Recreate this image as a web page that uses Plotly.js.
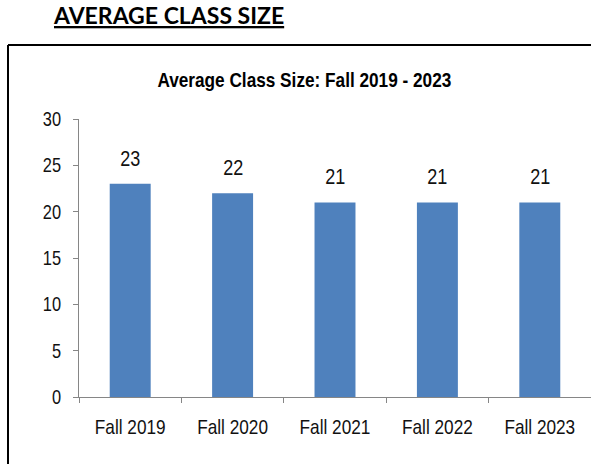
<!DOCTYPE html>
<html>
<head>
<meta charset="utf-8">
<script src="https://cdn.plot.ly/plotly-3.0.1.min.js"></script>
<style>html,body{margin:0;padding:0;background:#fff;}#chart{width:591px;height:464px;}</style>
</head>
<body>
<div id="chart"></div>
<script>
const categories = ["Fall 2019", "Fall 2020", "Fall 2021", "Fall 2022", "Fall 2023"];
const avgClassSize = [23, 22, 21, 21, 21];
const yTickValues = [0, 5, 10, 15, 20, 25, 30];
const chartTitle = "Average Class Size: Fall 2019 - 2023";
const heading = "AVERAGE CLASS SIZE";

const arial = "'Liberation Sans', Arial, sans-serif";
const NARROW = 0.82; // horizontal condensing to mimic Arial Narrow

const trace = {
  type: "bar",
  x: categories,
  y: avgClassSize,
  marker: {color: "#4F81BD", line: {width: 0}},
  width: 0.4,
  hoverinfo: "skip"
};

const labelAnns = categories.map((c, i) => ({
  x: c, y: avgClassSize[i], xref: "x", yref: "y",
  text: String(avgClassSize[i]), showarrow: false,
  yanchor: "bottom", yshift: 11,
  font: {family: arial, size: 22, color: "#111"}
}));

const layout = {
  width: 591, height: 464,
  margin: {l: 79, r: 0, t: 119, b: 67},
  paper_bgcolor: "#fff", plot_bgcolor: "#fff",
  showlegend: false,
  title: {
    text: "<b>" + chartTitle + "</b>",
    font: {family: arial, size: 21, color: "#000"},
    xref: "container", yref: "container",
    x: 0.515, xanchor: "center", y: 1 - 80/464, yanchor: "middle"
  },
  xaxis: {
    type: "category",
    showline: true, linecolor: "#868686", linewidth: 1,
    ticks: "outside", tickson: "boundaries", ticklen: 5, tickcolor: "#868686",
    tickfont: {family: arial, size: 21, color: "#111"},
    showgrid: false, zeroline: false,
    ticklabelstandoff: 11
  },
  yaxis: {
    range: [0, 30], tickvals: yTickValues,
    showline: true, linecolor: "#868686", linewidth: 1,
    ticks: "outside", ticklen: 5, tickcolor: "#868686",
    tickfont: {family: arial, size: 20, color: "#111"},
    showgrid: false, zeroline: false,
    ticklabelstandoff: 8
  },
  annotations: labelAnns.concat([{
    xref: "paper", yref: "paper",
    x: (168 - 79) / 512, y: (397 - 15) / 278,
    xanchor: "center", yanchor: "middle",
    text: "<b><u>" + heading + "</u></b>", showarrow: false,
    name: "heading",
    font: {family: "Lato, 'Open Sans', sans-serif", size: 23, color: "#000"}
  }]),
  shapes: [
    {type: "line", xref: "paper", yref: "paper",
     x0: (8 - 79) / 512, x1: 1.02, y0: (397 - 45) / 278, y1: (397 - 45) / 278,
     line: {color: "#000", width: 2}},
    {type: "line", xref: "paper", yref: "paper",
     x0: (8 - 79) / 512, x1: (8 - 79) / 512, y0: (397 - 45) / 278, y1: (397 - 470) / 278,
     line: {color: "#000", width: 2}}
  ]
};

Plotly.newPlot("chart", [trace], layout, {displayModeBar: false, staticPlot: true}).then(gd => {
  // condense chart texts (except the page heading) around their anchor point
  gd.querySelectorAll("svg text").forEach(t => {
    if (t.textContent === heading) return;
    const x = parseFloat(t.getAttribute("x")) || 0;
    const prev = t.getAttribute("transform") || "";
    t.setAttribute("transform", prev + " translate(" + x + ",0) scale(" + NARROW + ",1) translate(" + (-x) + ",0)");
  });
});
</script>
</body>
</html>
